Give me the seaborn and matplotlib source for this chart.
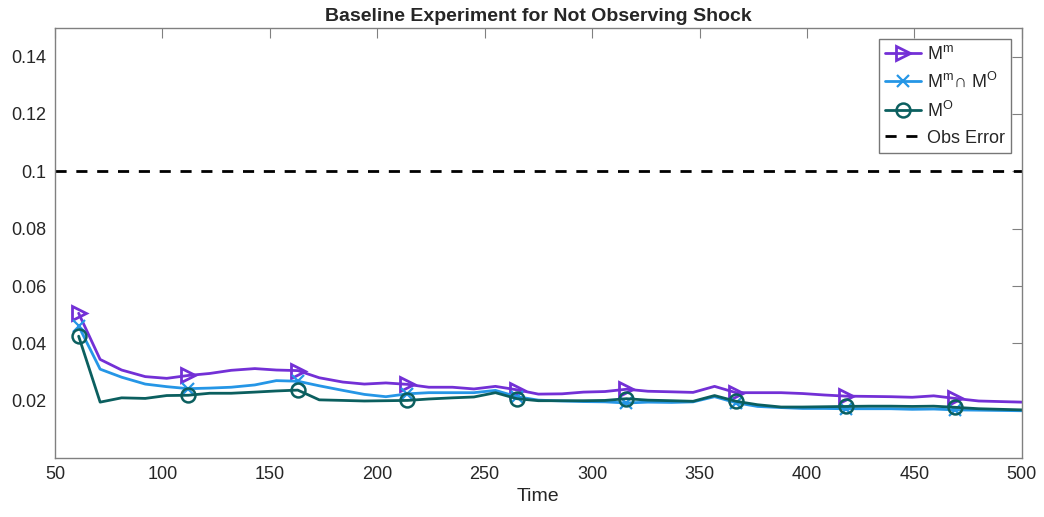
import matplotlib
matplotlib.use("Agg")
import matplotlib.pyplot as plt
import seaborn as sns
import pandas as pd

times = [61, 71, 81, 92, 102, 112, 122, 132, 143, 153, 163, 173, 184, 194, 204,
         214, 224, 235, 245, 255, 265, 275, 286, 296, 306, 316, 326, 337, 347,
         357, 367, 377, 388, 398, 408, 418, 429, 439, 449, 459, 469, 480, 490, 500]

m_m = [0.0505, 0.0344, 0.0307, 0.0284, 0.0278, 0.0288, 0.0295, 0.0306, 0.0312,
       0.0307, 0.0305, 0.0280, 0.0265, 0.0258, 0.0262, 0.0257, 0.0247, 0.0247,
       0.0241, 0.0250, 0.0238, 0.0223, 0.0224, 0.0230, 0.0232, 0.0240, 0.0233,
       0.0231, 0.0229, 0.0250, 0.0228, 0.0228, 0.0228, 0.0225, 0.0220, 0.0216,
       0.0215, 0.0214, 0.0212, 0.0217, 0.0208, 0.0199, 0.0197, 0.0195]

m_cap = [0.0460, 0.0310, 0.0282, 0.0258, 0.0249, 0.0242, 0.0244, 0.0247, 0.0255,
         0.0270, 0.0268, 0.0252, 0.0236, 0.0222, 0.0214, 0.0224, 0.0228, 0.0228,
         0.0228, 0.0236, 0.0214, 0.0202, 0.0199, 0.0197, 0.0196, 0.0192, 0.0195,
         0.0194, 0.0196, 0.0214, 0.0193, 0.0180, 0.0176, 0.0173, 0.0173, 0.0172,
         0.0172, 0.0172, 0.0170, 0.0171, 0.0168, 0.0167, 0.0166, 0.0165]

m_o = [0.0425, 0.0195, 0.0210, 0.0208, 0.0218, 0.0219, 0.0226, 0.0226, 0.0230,
       0.0234, 0.0237, 0.0203, 0.0201, 0.0199, 0.0200, 0.0201, 0.0206, 0.0210,
       0.0213, 0.0228, 0.0207, 0.0200, 0.0200, 0.0200, 0.0201, 0.0207, 0.0202,
       0.0200, 0.0198, 0.0218, 0.0198, 0.0186, 0.0178, 0.0178, 0.0179, 0.0180,
       0.0181, 0.0181, 0.0180, 0.0181, 0.0177, 0.0172, 0.0170, 0.0168]

obs_error = 0.1

labels = [r"M$^{\mathregular{m}}$", r"M$^{\mathregular{m}}$$\cap$ M$^{\mathregular{O}}$",
          r"M$^{\mathregular{O}}$", "Obs Error"]
title = "Baseline Experiment for Not Observing Shock"
xticks = [50, 100, 150, 200, 250, 300, 350, 400, 450, 500]
yticks = [0.02, 0.04, 0.06, 0.08, 0.1, 0.12, 0.14]
ytick_labels = ["0.02", "0.04", "0.06", "0.08", "0.1", "0.12", "0.14"]

sns.set_style("white")
plt.rcParams['font.family'] = ['Liberation Sans', 'DejaVu Sans']
plt.rcParams['mathtext.fontset'] = 'custom'
plt.rcParams['mathtext.rm'] = 'Liberation Sans'
plt.rcParams['mathtext.default'] = 'regular'

df = pd.DataFrame({"Time": times, "mm": m_m, "cap": m_cap, "mo": m_o})

fig = plt.figure(figsize=(10.44, 5.17), dpi=100)
ax = fig.add_axes([0.0527, 0.114, 0.926, 0.832])

c_purple = "#7330D6"
c_blue = "#2596E6"
c_green = "#0B5F5F"

sns.lineplot(data=df, x="Time", y="mm", ax=ax, color=c_purple, lw=2,
             marker=">", markevery=5, markersize=10, markerfacecolor="none",
             markeredgewidth=2, markeredgecolor=c_purple, label=labels[0])
sns.lineplot(data=df, x="Time", y="cap", ax=ax, color=c_blue, lw=2,
             marker="x", markevery=5, markersize=9,
             markeredgewidth=1.6, markeredgecolor=c_blue, label=labels[1])
sns.lineplot(data=df, x="Time", y="mo", ax=ax, color=c_green, lw=2,
             marker="o", markevery=5, markersize=10, markerfacecolor="none",
             markeredgewidth=1.8, markeredgecolor=c_green, label=labels[2])
ax.axhline(obs_error, color="black", lw=2, dashes=(4, 3.5), label=labels[3])

ax.set_xlim(50, 500)
ax.set_ylim(0, 0.15)
ax.set_xticks(xticks)
ax.set_yticks(yticks)
ax.set_yticklabels(ytick_labels)
ax.tick_params(axis="both", direction="in", length=7, width=0.8, color="#808080",
               labelsize=13, top=True, right=True, labelcolor="#262626", pad=6)
for s in ax.spines.values():
    s.set_color("#808080")
    s.set_linewidth(1)
ax.set_xlabel("Time", fontsize=14, color="#262626", labelpad=3)
ax.set_ylabel("")
ax.set_title(title, fontsize=14, fontweight="bold", pad=5)

leg = ax.legend(loc="upper right", fontsize=13, frameon=True, fancybox=False,
                edgecolor="#555555", handlelength=2.0, handletextpad=0.3,
                labelspacing=0.5, borderpad=0.35, borderaxespad=0.6)
leg.get_frame().set_linewidth(1)

fig.savefig("out.png", dpi=100)
